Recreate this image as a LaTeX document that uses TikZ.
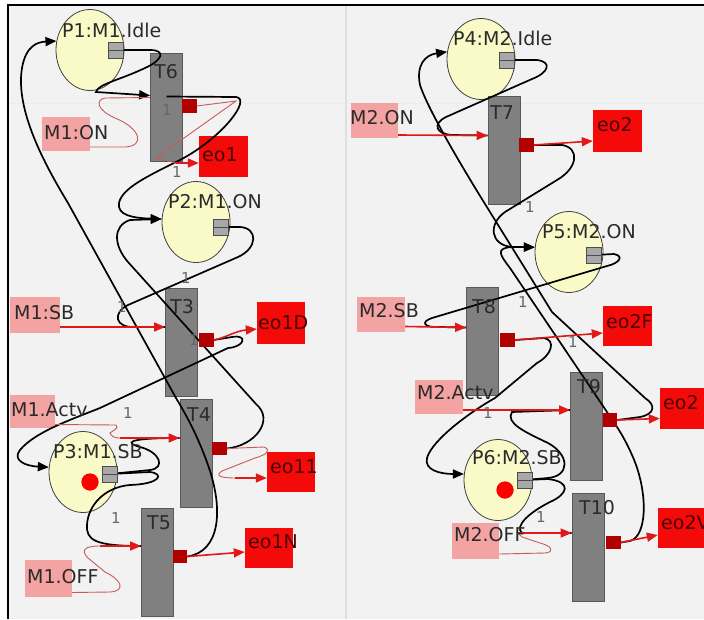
\documentclass[tikz,border=0pt]{standalone}
\usepackage{fontspec}
\setmainfont{DejaVu Sans}
\usetikzlibrary{shapes.geometric,arrows.meta}
\definecolor{bgc}{HTML}{F2F2F2}
\definecolor{placef}{HTML}{FAFAC8}
\definecolor{transf}{HTML}{808080}
\definecolor{pinkb}{HTML}{F4A3A3}
\definecolor{redb}{HTML}{F50A0A}
\definecolor{dred}{HTML}{B00000}
\definecolor{arcred}{HTML}{E01818}
\definecolor{thinred}{HTML}{C85A5A}
\definecolor{txt}{HTML}{2A2A2A}
\definecolor{eotxt}{HTML}{4A0000}
\definecolor{portg}{HTML}{A8A8A8}
\pgfdeclarelayer{bg}
\pgfdeclarelayer{mid}
\pgfsetlayers{bg,mid,main}
\begin{document}
\begin{tikzpicture}[x=1pt,y=-1pt,
  placeN/.style={ellipse, draw=black!75, line width=0.8pt, fill=placef, minimum width=68pt, minimum height=81pt, inner sep=0pt},
  trans/.style={rectangle, draw=black!65, line width=0.7pt, fill=transf, minimum width=32pt, minimum height=108pt, inner sep=0pt},
  inbox/.style={rectangle, fill=pinkb, minimum width=48pt, minimum height=34pt, inner sep=0pt},
  outbox/.style={rectangle, fill=redb, minimum width=48pt, minimum height=41pt, inner sep=0pt},
  portsq/.style={rectangle, draw=black!70, fill=portg, minimum width=14pt, minimum height=15pt, inner sep=0pt, line width=0.6pt},
  dsq/.style={rectangle, fill=dred, minimum width=14pt, minimum height=13pt, inner sep=0pt},
  tok/.style={circle, fill=red, minimum size=17pt, inner sep=0pt},
  lbl/.style={anchor=west, inner sep=0pt, text=txt, font=\fontsize{19}{22}\selectfont},
  eolbl/.style={lbl, text=eotxt},
  wt/.style={inner sep=0pt, text=black!60, font=\fontsize{15}{18}\selectfont},
  barc/.style={line width=1.7pt, black},
  rarc/.style={line width=1.6pt, arcred},
  tarc/.style={line width=0.9pt, thinred},
  btip/.style={-{Triangle[length=11pt,width=9pt]}},
  rtip/.style={-{Triangle[length=11pt,width=9pt]}}
]
\useasboundingbox (0,0) rectangle (704,619);
\begin{pgfonlayer}{bg}
\fill[white] (0,0) rectangle (704,619);
\fill[bgc] (8,5) rectangle (704,619);
\draw[gray!15, line width=1pt] (8,103) -- (704,103);
\draw[gray!25, line width=1.2pt] (346,5) -- (346,619);
\draw[black, line width=1.5pt] (8,619) -- (8,5) -- (704,5);
% places
\node[placeN] (p1) at (90,50) {};
\node[placeN] (p2) at (196,222) {};
\node[placeN] (p3) at (83,472) {};
\node[placeN] (p4) at (481,59) {};
\node[placeN] (p5) at (569,252) {};
\node[placeN] (p6) at (498,480) {};
% transitions
\node[trans] (t6) at (166.5,107.5) {};
\node[trans] (t3) at (181.5,342) {};
\node[trans] (t4) at (196,453) {};
\node[trans] (t5) at (157.5,562) {};
\node[trans] (t7) at (504,150.5) {};
\node[trans] (t8) at (482.5,341.5) {};
\node[trans] (t9) at (586.5,426) {};
\node[trans] (t10) at (588,547) {};
% input boxes
\node[inbox] (m1on) at (66,133.5) {};
\node[inbox, minimum width=50pt, minimum height=36pt] (m1sb) at (35,315) {};
\node[inbox, minimum width=45pt, minimum height=33pt] (m1actv) at (32.5,411.5) {};
\node[inbox, minimum width=47pt, minimum height=37pt] (m1off) at (48.5,578.5) {};
\node[inbox, minimum width=47pt, minimum height=35pt] (m2on) at (374.5,120.5) {};
\node[inbox, minimum height=35pt] (m2sb) at (381,314.5) {};
\node[inbox] (m2actv) at (439,397) {};
\node[inbox, minimum width=47pt, minimum height=36pt] (m2off) at (475.5,541) {};
% output boxes
\node[outbox, minimum width=49pt] (eo1) at (223.5,156.5) {};
\node[outbox, minimum height=42pt] (eo1d) at (281,323) {};
\node[outbox, minimum height=40pt] (eo11) at (291,472) {};
\node[outbox, minimum height=40pt] (eo1n) at (269,548) {};
\node[outbox, minimum width=49pt, minimum height=42pt] (eo2) at (617.5,131) {};
\node[outbox, minimum width=49pt, minimum height=40pt] (eo2f) at (627.5,326) {};
\node[outbox] (eo2b) at (684,408.5) {};
\node[outbox, minimum height=40pt] (eo2v) at (682,528) {};
\end{pgfonlayer}
% ports and output squares
\node[portsq] (p1p) at (116,50) {};
\node[portsq] (p2p) at (221,227) {};
\node[portsq] (p3p) at (110,474) {};
\node[portsq] (p4p) at (507,60) {};
\node[portsq] (p5p) at (594,255) {};
\node[portsq] (p6p) at (525,480) {};
\node[dsq] (t6p) at (189.5,106) {};
\node[dsq] (t3p) at (206.5,340) {};
\node[dsq] (t4p) at (219.5,448.5) {};
\node[dsq] (t5p) at (180,556.5) {};
\node[dsq] (t7p) at (526.5,145) {};
\node[dsq] (t8p) at (507.5,340) {};
\node[dsq] (t9p) at (610,420) {};
\node[dsq] (t10p) at (613.5,542.5) {};
\node[tok] (k3) at (90,482) {};
\node[tok] (k6) at (505,490) {};
\begin{pgfonlayer}{mid}
% ---- left panel, black arcs
\draw[barc,btip] (t5p.east) .. controls (220,552) and (224,510) .. (208,465) .. controls (198,437) and (188,418) .. (176,398) -- (68,203) .. controls (45,165) and (15,110) .. (22,68) .. controls (26,45) and (38,42) .. (p1.165);
\draw[barc,btip] (p1p.center) -- (150,50) .. controls (166,50) and (163,60) .. (145,68) .. controls (120,80) and (98,84) .. (96,92) -- ([yshift=12pt]t6.west);
\draw[barc,btip] ([yshift=11pt]t6.center) -- (236,97) .. controls (252,99) and (222,138) .. (180,160) .. controls (148,176) and (122,188) .. (119,203) .. controls (117,215) and (132,218) .. (p2.175);
\draw[barc,btip] (t4p.east) .. controls (255,446) and (275,420) .. (256,404) -- (128,262) .. controls (114,246) and (112,226) .. (130,220) -- (p2.175);
\draw[barc] (p2p.center) -- (240,227) .. controls (258,228) and (258,248) .. (238,257) -- (128,305) .. controls (112,313) and (115,328) .. (135,327) -- ([yshift=15pt]t3.west);
\draw[barc,btip] (t3p.east) -- (232,337) .. controls (248,334) and (245,347) .. (228,348) -- (100,408) .. controls (70,420) and (35,432) .. (20,450) .. controls (12,460) and (25,466) .. (p3.172);
\draw[barc] (p3p.center) -- (150,470) .. controls (166,468) and (160,452) .. (140,447) .. controls (125,443) and (125,438) .. ([yshift=15pt]t4.west);
\draw[barc] (p3p.center) -- (150,472) .. controls (165,474) and (160,484) .. (130,485) .. controls (105,487) and (88,505) .. (87,525) .. controls (86,540) and (95,546) .. ([yshift=16pt]t5.west);
% ---- left panel, red arcs
\draw[tarc] ([yshift=-13.5pt]m1on.east) -- (125,147) .. controls (146,146) and (140,128) .. (115,118) .. controls (97,110) and (95,100) .. (105,98) -- ([yshift=10pt]t6.west);
\draw[tarc] (t6p.east) -- (236,101) -- (156,158) -- (176,163);
\draw[rarc,rtip] (176,163) -- ([yshift=-6.5pt]eo1.west);
\draw[rarc,rtip] ([yshift=-12pt]m1sb.east) -- ([yshift=15pt]t3.west);
\draw[rarc,rtip] (t3p.east) .. controls (225,338) and (235,331) .. ([yshift=-6pt]eo1d.west);
\draw[tarc] ([yshift=-13pt]m1actv.east) -- (116,425) .. controls (120,428) and (112,431) .. (110,433) .. controls (112,437) and (115,438) .. (120,438);
\draw[rarc,rtip] (120,438) -- ([yshift=15pt]t4.west);
\draw[tarc] (t4p.east) -- (264,447) .. controls (272,450) and (266,455) .. (255,458) -- (222,471) .. controls (214,476) and (222,478) .. (235,478);
\draw[rarc,rtip] (235,478) -- ([yshift=-6pt]eo11.west);
\draw[tarc] ([yshift=-14pt]m1off.east) -- (110,592) .. controls (126,591) and (122,580) .. (105,572) -- (88,558) .. controls (80,550) and (85,546) .. (100,546);
\draw[rarc,rtip] (100,546) -- ([yshift=16pt]t5.west);
\draw[rarc,rtip] (t5p.east) -- ([yshift=-4pt]eo1n.west);
% ---- right panel, black arcs
\draw[barc,btip] (t9p.east) -- (640,417) .. controls (655,414) and (656,405) .. (645,398) -- (552,312) -- (490,212) .. controls (465,172) and (428,110) .. (420,85) .. controls (416,65) and (425,55) .. (p4.168);
\draw[barc,btip] (t10p.east) -- (630,541) .. controls (648,536) and (648,490) .. (632,455) .. controls (622,432) and (612,420) .. (603,406) -- (510,268) .. controls (500,255) and (495,248) .. (512,247) -- (p5.172);
\draw[barc,btip] (t7p.east) -- (562,145) .. controls (580,148) and (578,168) .. (557,180) -- (505,212) .. controls (488,224) and (490,245) .. (512,247) -- (p5.172);
\draw[barc] (p4p.center) -- (537,60) .. controls (553,62) and (548,73) .. (532,79) -- (446,117) .. controls (432,124) and (436,134) .. (452,135) -- ([yshift=15pt]t7.west);
\draw[barc] (p5p.center) -- (614,254) .. controls (624,256) and (620,263) .. (607,266) -- (432,318) .. controls (420,322) and (424,328) .. (440,327) -- ([yshift=14pt]t8.west);
\draw[barc,btip] (t8p.east) -- (544,338) .. controls (556,340) and (552,355) .. (537,363) -- (495,398) .. controls (470,412) and (432,440) .. (427,458) .. controls (424,470) and (440,474) .. (p6.170);
\draw[barc] (p6p.center) -- (548,478) .. controls (570,476) and (570,455) .. (548,443) .. controls (525,432) and (505,423) .. (512,412) -- ([yshift=16pt]t9.west);
\draw[barc] (p6p.center) -- (548,479) .. controls (572,482) and (568,494) .. (550,502) .. controls (530,512) and (514,526) .. (522,533) -- ([yshift=14pt]t10.west);
% ---- right panel, red arcs
\draw[rarc,rtip] ([yshift=-14.5pt]m2on.east) -- ([yshift=15pt]t7.west);
\draw[rarc,rtip] (t7p.east) -- ([yshift=-10pt]eo2.west);
\draw[rarc,rtip] ([yshift=-12pt]m2sb.east) -- ([yshift=14pt]t8.west);
\draw[rarc,rtip] (t8p.east) -- ([yshift=-7pt]eo2f.west);
\draw[rarc,rtip] ([yshift=-13pt]m2actv.east) -- ([yshift=16pt]t9.west);
\draw[rarc,rtip] (t9p.east) -- ([yshift=-10pt]eo2b.west);
\draw[tarc] ([yshift=-13pt]m2off.east) -- (545,553) .. controls (555,552) and (552,546) .. (540,543) -- (522,537) -- (518,533);
\draw[rarc,rtip] (518,533) -- ([yshift=14pt]t10.west);
\draw[rarc,rtip] (t10p.east) -- ([yshift=-7pt]eo2v.west);
\end{pgfonlayer}
% redraw port boxes on top of the arcs
\foreach \q in {p1p,p2p,p3p,p4p,p5p,p6p} {
  \draw[black!70, fill=portg, line width=0.6pt] (\q.south west) rectangle (\q.north east);
  \draw[black!70, line width=0.6pt] (\q.west) -- (\q.east);
}
\foreach \q in {t6p,t3p,t4p,t5p,t7p,t8p,t9p,t10p} {
  \fill[dred] (\q.south west) rectangle (\q.north east);
}
\fill[red] (k3.center) circle (8.5pt);
\fill[red] (k6.center) circle (8.5pt);
% labels
\node[lbl] (lp1) at (62,30) {P1:M1.Idle};
\node[lbl] (lp2) at (168,202) {P2:M1.ON};
\node[lbl] (lp3) at (53,452) {P3:M1.SB};
\node[lbl] (lp4) at (453,38) {P4:M2.Idle};
\node[lbl] (lp5) at (542,232) {P5:M2.ON};
\node[lbl] (lp6) at (472,458) {P6:M2.SB};
\node[lbl] (lt6) at (154,72) {T6};
\node[lbl] (lt3) at (170,307) {T3};
\node[lbl] (lt4) at (187,415) {T4};
\node[lbl] (lt5) at (147,523) {T5};
\node[lbl] (lt7) at (490,113) {T7};
\node[lbl] (lt8) at (472,307) {T8};
\node[lbl] (lt9) at (577,387) {T9};
\node[lbl] (lt10) at (579,508) {T10};
\node[lbl] (lm1on) at (44,133) {M1:ON};
\node[lbl] (lm1sb) at (14,313) {M1:SB};
\node[lbl] (lm1actv) at (11,410) {M1.Actv};
\node[lbl] (lm1off) at (27,577) {M1.OFF};
\node[lbl] (lm2on) at (350,118) {M2.ON};
\node[lbl] (lm2sb) at (359,311) {M2.SB};
\node[lbl] (lm2actv) at (417,393) {M2.Actv};
\node[lbl] (lm2off) at (454,535) {M2.OFF};
\node[eolbl] (leo1) at (202,155) {eo1};
\node[eolbl] (leo1d) at (258,323) {eo1D};
\node[eolbl] (leo11) at (270,467) {eo11};
\node[eolbl] (leo1n) at (248,542) {eo1N};
\node[eolbl] (leo2) at (597,125) {eo2};
\node[eolbl] (leo2f) at (606,322) {eo2F};
\node[eolbl] (leo2b) at (663,403) {eo2};
\node[eolbl] (leo2v) at (661,523) {eo2V};
% arc weights
\node[wt] (w1) at (167,110) {1};
\node[wt] (w2) at (177,172) {1};
\node[wt] (w3) at (122,307) {1};
\node[wt] (w4) at (186,278) {1};
\node[wt] (w5) at (194,340) {1};
\node[wt] (w6) at (128,413) {1};
\node[wt] (w7) at (116,518) {1};
\node[wt] (w8) at (530,207) {1};
\node[wt] (w9) at (523,302) {1};
\node[wt] (w10) at (573,342) {1};
\node[wt] (w11) at (488,413) {1};
\node[wt] (w12) at (541,517) {1};
\end{tikzpicture}
\end{document}
